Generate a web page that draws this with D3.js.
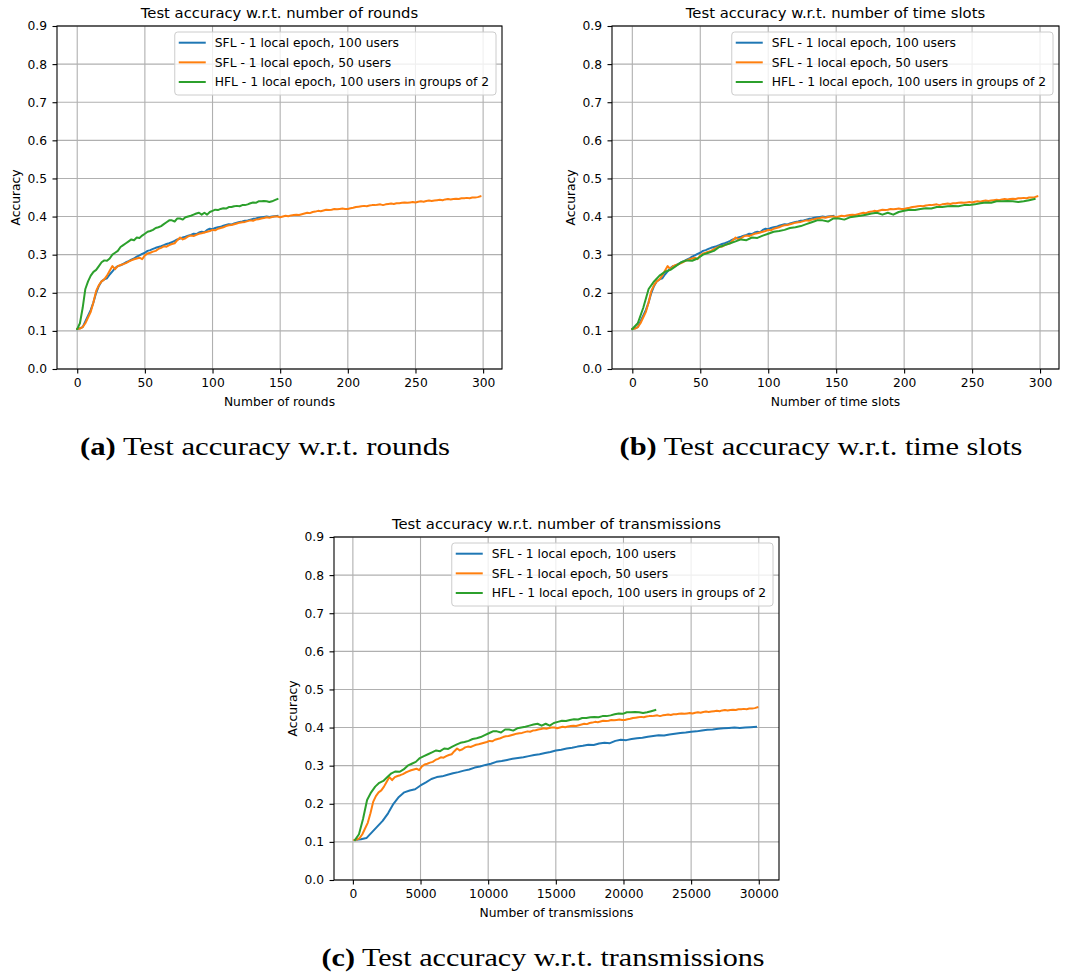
<!DOCTYPE html>
<html>
<head>
<meta charset="utf-8">
<script src="https://cdn.jsdelivr.net/npm/d3@7"></script>
<style>
  body { margin: 0; background: #fff; }
  text { font-family: "DejaVu Sans", sans-serif; fill: #000; }
  .caption { font-family: "Liberation Serif", "DejaVu Serif", serif; }
</style>
</head>
<body>
<div id="chart"></div>
<script>
// series labels / colours (matplotlib tab10)
const seriesNames = [
    "SFL - 1 local epoch, 100 users",
    "SFL - 1 local epoch, 50 users",
    "HFL - 1 local epoch, 100 users in groups of 2"
];
const seriesColors = ["#1f77b4", "#ff7f0e", "#2ca02c"];

const sfl100Acc = [
    0.105, 0.107, 0.110, 0.125, 0.140, 0.155, 0.175, 0.200, 0.218, 0.230,
    0.235, 0.238, 0.248, 0.256, 0.265, 0.270, 0.272, 0.276, 0.280, 0.283,
    0.287, 0.290, 0.295, 0.298, 0.302, 0.305, 0.310, 0.312, 0.315, 0.318,
    0.320, 0.322, 0.325, 0.328, 0.330, 0.333, 0.336, 0.340, 0.342, 0.345,
    0.347, 0.350, 0.352, 0.355, 0.354, 0.358, 0.360, 0.359, 0.365, 0.368,
    0.367, 0.370, 0.372, 0.373, 0.376, 0.378, 0.380, 0.379, 0.382, 0.384,
    0.386, 0.387, 0.389, 0.390, 0.392, 0.394, 0.395, 0.397, 0.398, 0.399,
    0.400, 0.399, 0.400, 0.401, 0.402
];
const sfl50Acc = [
    0.105, 0.106, 0.110, 0.120, 0.135, 0.150, 0.175, 0.205, 0.220, 0.230,
    0.235, 0.245, 0.258, 0.270, 0.262, 0.270, 0.273, 0.275, 0.278, 0.282,
    0.285, 0.288, 0.290, 0.292, 0.288, 0.298, 0.303, 0.305, 0.308, 0.310,
    0.315, 0.318, 0.322, 0.321, 0.325, 0.328, 0.330, 0.338, 0.345, 0.340,
    0.343, 0.348, 0.350, 0.349, 0.352, 0.355, 0.356, 0.358, 0.360, 0.362,
    0.365, 0.364, 0.368, 0.370, 0.372, 0.375, 0.377, 0.378, 0.380, 0.382,
    0.384, 0.385, 0.386, 0.388, 0.390, 0.389, 0.392, 0.393, 0.395, 0.396,
    0.398, 0.397, 0.399, 0.400, 0.400, 0.398, 0.400, 0.402, 0.401, 0.403,
    0.404, 0.405, 0.404, 0.406, 0.408, 0.410, 0.409, 0.412, 0.413, 0.415,
    0.414, 0.416, 0.418, 0.417, 0.418, 0.420, 0.419, 0.420, 0.421, 0.420,
    0.420, 0.422, 0.423, 0.425, 0.426, 0.427, 0.428, 0.427, 0.429, 0.430,
    0.430, 0.431, 0.432, 0.430, 0.432, 0.433, 0.434, 0.433, 0.435, 0.435,
    0.436, 0.437, 0.436, 0.437, 0.438, 0.437, 0.439, 0.440, 0.439, 0.441,
    0.442, 0.441, 0.442, 0.443, 0.444, 0.443, 0.445, 0.446, 0.445, 0.446,
    0.447, 0.446, 0.448, 0.448, 0.449, 0.448, 0.450, 0.450, 0.451, 0.453
];
const hfl100Acc = [
    0.105, 0.120, 0.160, 0.210, 0.230, 0.245, 0.255, 0.260, 0.270, 0.280,
    0.285, 0.284, 0.290, 0.300, 0.305, 0.310, 0.320, 0.325, 0.330, 0.335,
    0.340, 0.338, 0.345, 0.344, 0.350, 0.355, 0.360, 0.362, 0.365, 0.370,
    0.372, 0.375, 0.380, 0.385, 0.390, 0.390, 0.387, 0.395, 0.395, 0.392,
    0.398, 0.400, 0.402, 0.405, 0.408, 0.410, 0.405, 0.410, 0.405, 0.412,
    0.415, 0.418, 0.417, 0.420, 0.422, 0.421, 0.425, 0.425, 0.427, 0.428,
    0.427, 0.430, 0.430, 0.432, 0.435, 0.437, 0.436, 0.440, 0.440, 0.441,
    0.440, 0.438, 0.440, 0.443, 0.446
];
const seriesAcc = [sfl100Acc, sfl50Acc, hfl100Acc];
const roundStep = 2;

// cost of one round for each scheme
const slotsPerRound = [1, 1, 2];
const transmissionsPerRound = [200, 100, 150];

const yTicks = [0, 0.1, 0.2, 0.3, 0.4, 0.5, 0.6, 0.7, 0.8, 0.9];
const roundTicks = [0, 50, 100, 150, 200, 250, 300];
const transmissionTicks = [0, 5000, 10000, 15000, 20000, 25000, 30000];

const width = 1078, height = 977;
const fs = 12.3;      // tick / label / legend font size
const titleFs = 14.8;

const svg = d3.select("#chart").append("svg")
    .attr("width", width)
    .attr("height", height)
    .style("display", "block");

svg.append("rect").attr("width", width).attr("height", height).attr("fill", "#fff");

const panels = [
    {
        left: 57, top: 26, w: 445, h: 343,
        title: "Test accuracy w.r.t. number of rounds",
        xlabel: "Number of rounds",
        xDomain: [-14.95, 313.95], xTicks: roundTicks,
        xOf: (r, s) => r,
        caption: ["(a)", "Test accuracy w.r.t. rounds"], capX: 265, capY: 455, capW: 370
    },
    {
        left: 612, top: 26, w: 447, h: 343,
        title: "Test accuracy w.r.t. number of time slots",
        xlabel: "Number of time slots",
        xDomain: [-14.95, 313.95], xTicks: roundTicks,
        xOf: (r, s) => r * slotsPerRound[s],
        caption: ["(b)", "Test accuracy w.r.t. time slots"], capX: 821, capY: 455, capW: 403
    },
    {
        left: 334, top: 537, w: 445, h: 343,
        title: "Test accuracy w.r.t. number of transmissions",
        xlabel: "Number of transmissions",
        xDomain: [-1395, 31495], xTicks: transmissionTicks,
        xOf: (r, s) => (r + 1) * transmissionsPerRound[s],
        caption: ["(c)", "Test accuracy w.r.t. transmissions"], capX: 543, capY: 966, capW: 443
    }
];

panels.forEach(p => drawPanel(p));

function drawPanel(p) {
    const g = svg.append("g").attr("transform", `translate(${p.left},${p.top})`);

    const x = d3.scaleLinear().domain(p.xDomain).range([0, p.w]);
    const y = d3.scaleLinear().domain([0, 0.9]).range([p.h, 0]);

    // grid
    g.append("g").selectAll("line").data(p.xTicks).join("line")
        .attr("x1", d => x(d)).attr("x2", d => x(d))
        .attr("y1", 0).attr("y2", p.h)
        .attr("stroke", "#b0b0b0").attr("stroke-width", 1.1);
    g.append("g").selectAll("line").data(yTicks).join("line")
        .attr("x1", 0).attr("x2", p.w)
        .attr("y1", d => y(d)).attr("y2", d => y(d))
        .attr("stroke", "#b0b0b0").attr("stroke-width", 1.1);

    // axes
    const xAxis = g.append("g")
        .attr("transform", `translate(0,${p.h})`)
        .call(d3.axisBottom(x).tickValues(p.xTicks).tickFormat(d3.format("d"))
            .tickSizeInner(4.5).tickSizeOuter(0).tickPadding(4.5));
    const yAxis = g.append("g")
        .call(d3.axisLeft(y).tickValues(yTicks).tickFormat(d3.format(".1f"))
            .tickSizeInner(4.5).tickSizeOuter(0).tickPadding(5.5));
    [xAxis, yAxis].forEach(a => {
        a.select(".domain").remove();
        a.selectAll("line").attr("stroke", "#000").attr("stroke-width", 1.1);
        a.selectAll("text").attr("font-size", fs).attr("font-family", "DejaVu Sans").attr("fill", "#000");
    });

    // lines
    const line = d3.line();
    seriesAcc.forEach((vals, s) => {
        const pts = vals.map((v, i) => [x(p.xOf(i * roundStep, s)), y(v)]);
        g.append("path")
            .attr("d", line(pts))
            .attr("fill", "none")
            .attr("stroke", seriesColors[s])
            .attr("stroke-width", 2)
            .attr("stroke-linejoin", "round")
            .attr("stroke-linecap", "square");
    });

    // frame
    g.append("rect")
        .attr("width", p.w).attr("height", p.h)
        .attr("fill", "none").attr("stroke", "#000").attr("stroke-width", 1.1);

    // title and labels
    g.append("text")
        .attr("x", p.w / 2).attr("y", -8.5)
        .attr("text-anchor", "middle")
        .attr("font-size", titleFs)
        .text(p.title);
    g.append("text")
        .attr("x", p.w / 2).attr("y", p.h + 37)
        .attr("text-anchor", "middle")
        .attr("font-size", fs)
        .text(p.xlabel);
    g.append("text")
        .attr("transform", `translate(-37,${p.h / 2}) rotate(-90)`)
        .attr("text-anchor", "middle")
        .attr("font-size", fs)
        .text("Accuracy");

    // legend
    const leg = g.append("g");
    const box = leg.append("rect")
        .attr("fill", "#fff").attr("fill-opacity", 0.8)
        .attr("stroke", "#cccccc").attr("stroke-width", 1)
        .attr("rx", 3);
    let maxW = 0;
    seriesNames.forEach((name, s) => {
        const ly = 10.7 + s * 19.65;
        leg.append("line")
            .attr("x1", 4).attr("x2", 31)
            .attr("y1", ly).attr("y2", ly)
            .attr("stroke", seriesColors[s]).attr("stroke-width", 2);
        const t = leg.append("text")
            .attr("x", 40).attr("y", ly).attr("dy", "0.35em")
            .attr("font-size", fs)
            .text(name);
        maxW = Math.max(maxW, t.node().getComputedTextLength());
    });
    const bw = 40 + maxW + 7;
    box.attr("width", bw).attr("height", 63);
    leg.attr("transform", `translate(${p.w - 6 - bw},6)`);

    // caption under the subplot
    const cap = svg.append("text")
        .attr("class", "caption")
        .attr("x", p.capX).attr("y", p.capY)
        .attr("text-anchor", "middle")
        .attr("font-size", 25)
        .attr("textLength", p.capW)
        .attr("lengthAdjust", "spacingAndGlyphs");
    cap.append("tspan").attr("font-weight", "bold").text(p.caption[0]);
    cap.append("tspan").text(" " + p.caption[1]);
}
</script>
</body>
</html>
